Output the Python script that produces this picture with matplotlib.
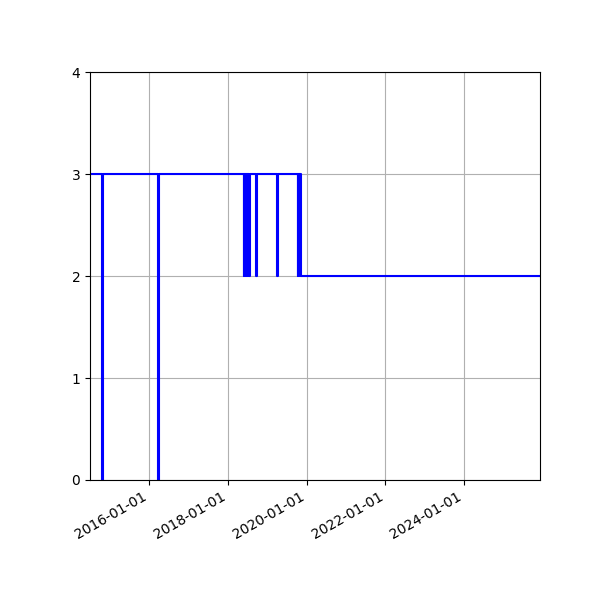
"""Step chart of a level series over time."""

import matplotlib
matplotlib.use("Agg")
import matplotlib.dates as mdates
import matplotlib.pyplot as plt
import pandas as pd

# change points: (date, value) held until the next change
change_dates = [
    "2014-07-01", "2014-10-16", "2014-10-26",
    "2016-03-19", "2016-03-29",
    "2018-05-27", "2018-05-31", "2018-06-06", "2018-06-10",
    "2018-06-16", "2018-06-20", "2018-06-26", "2018-06-30",
    "2018-07-06", "2018-07-10", "2018-07-16", "2018-07-21",
    "2018-09-22", "2018-09-24",
    "2019-04-05", "2019-04-07",
    "2019-10-09", "2019-10-13", "2019-10-20", "2019-10-24",
    "2019-10-30", "2019-11-02", "2019-11-07",
    "2025-12-05",
]
change_values = [
    3, 0, 3,
    0, 3,
    2, 3, 2, 3,
    2, 3, 2, 3,
    2, 3, 2, 3,
    2, 3,
    2, 3,
    2, 3, 2, 3,
    2, 3, 2,
    2,
]

dates = pd.to_datetime(change_dates)

fig, ax = plt.subplots(figsize=(6, 6), dpi=100)
ax.plot(dates, change_values, drawstyle="steps-post", color="blue", linewidth=1.5)
ax.set_xlim(dates[0], dates[-1])
ax.set_ylim(0, 4)
ax.set_yticks([0, 1, 2, 3, 4])
ax.xaxis.set_major_locator(mdates.YearLocator(2))
ax.xaxis.set_major_formatter(mdates.DateFormatter("%Y-%m-%d"))
ax.grid(True)
fig.autofmt_xdate()
fig.subplots_adjust(left=0.15, right=0.9, top=0.88, bottom=0.2)
fig.savefig("out.png", dpi=100)
